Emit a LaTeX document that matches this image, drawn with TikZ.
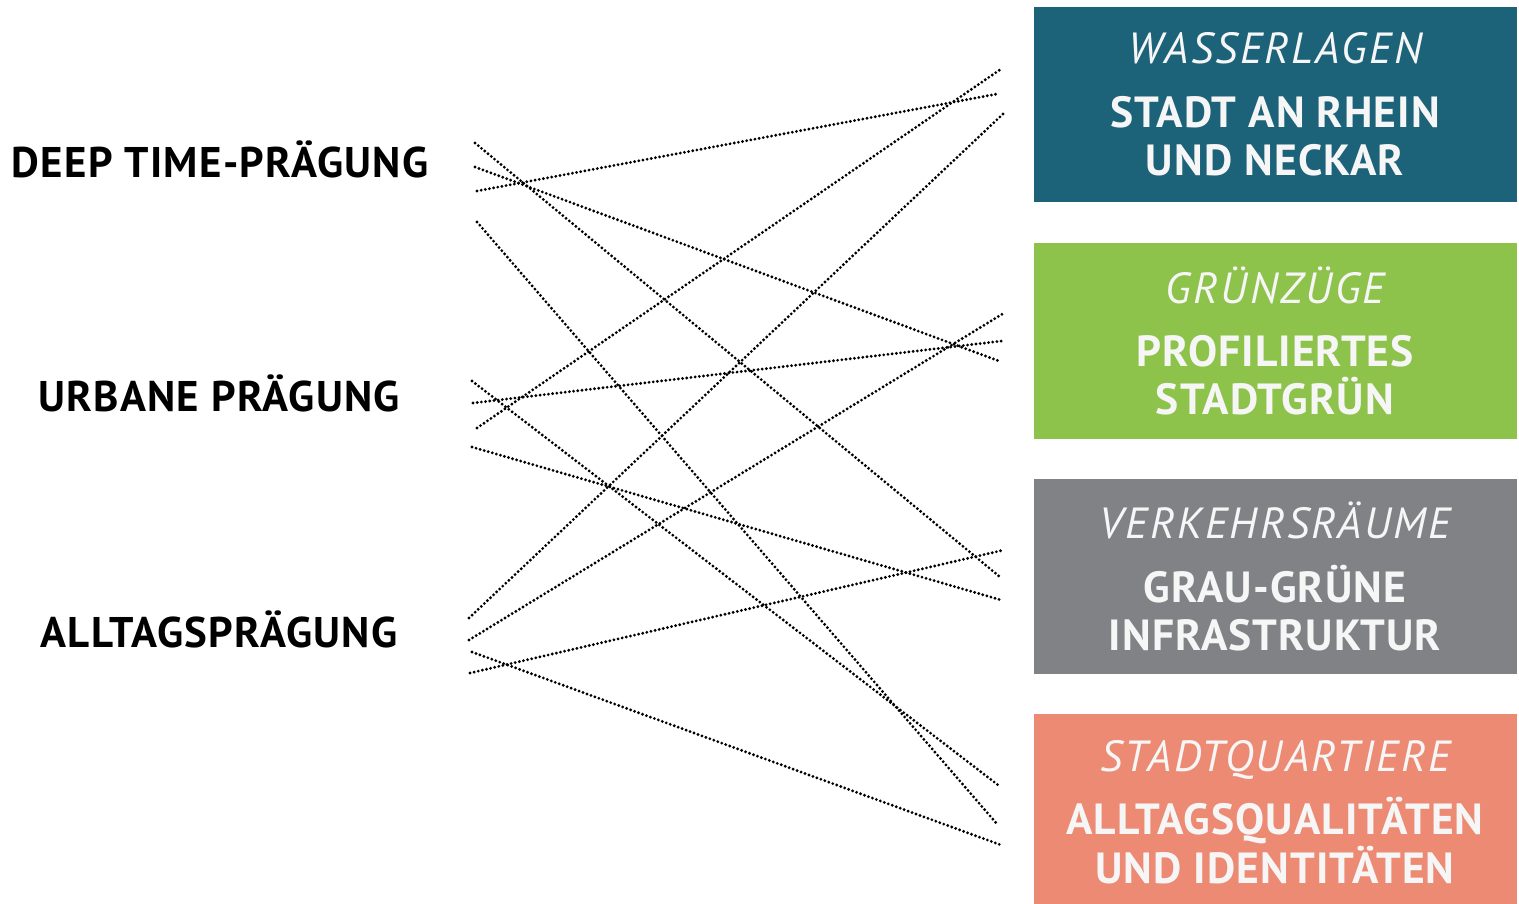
\documentclass[tikz,border=0pt]{standalone}
\usepackage{fontspec}
\setmainfont{PT Sans}
\definecolor{wasser}{RGB}{28,99,122}
\definecolor{gruen}{RGB}{141,194,75}
\definecolor{verkehr}{RGB}{128,130,133}
\definecolor{quartier}{RGB}{236,138,115}
\definecolor{weiss}{RGB}{246,246,246}
\newcommand{\feld}[6]{%
  % 彩色方框: 名称, 颜色, 中心y, 标题, 两行正文
  \node[feld, fill=#2] (#1) at (1275.5,#3)
  {{\itshape\addfontfeature{LetterSpace=5.5}#4}\\[4.3pt]%
   \textbf{\addfontfeature{LetterSpace=2.5}#5}\\%
   \textbf{\addfontfeature{LetterSpace=2.5}#6}};
}

\begin{document}
\begin{tikzpicture}[
  x=0.01cm, y=-0.01cm,
  feld/.style={rectangle, inner sep=0pt, minimum width=4.83cm,
    minimum height=1.95cm, text=weiss, align=center,
    font=\fontsize{12.4}{13.7}\selectfont},
  praeg/.style={anchor=base,
    font=\fontsize{12.2}{14}\selectfont\bfseries\addfontfeature{LetterSpace=3}},
  punkt/.style={line width=0.9pt, line cap=round,
    dash pattern=on 0pt off 1.2pt},
  ]
  \useasboundingbox (0,0) rectangle (1519,904);
  \clip (0,0) rectangle (1519,904);

  % 左侧三类标签
  \node[praeg] (deep) at (220,178) {DEEP TIME-PRÄGUNG};
  \node[praeg] (urban) at (219,412) {URBANE PRÄGUNG};
  \node[praeg] (alltag) at (219,647) {ALLTAGSPRÄGUNG};

  % 右侧四个方框
  \feld{wasser}{wasser}{104.5}{WASSERLAGEN}{STADT AN RHEIN}{UND NECKAR}
  \feld{gruen}{gruen}{341}{GRÜNZÜGE}{PROFILIERTES}{STADTGRÜN}
  \feld{verkehr}{verkehr}{576.5}{VERKEHRSRÄUME}{GRAU-GRÜNE}{INFRASTRUKTUR}
  \feld{quartier}{quartier}{812}{STADTQUARTIERE}{ALLTAGSQUALITÄTEN}{UND IDENTITÄTEN}

  % 连线起点
  \coordinate (d1) at (475,143);
  \coordinate (d2) at (475,167);
  \coordinate (d3) at (477,191);
  \coordinate (d4) at (477,222);
  \coordinate (u1) at (472,381);
  \coordinate (u2) at (473,403);
  \coordinate (u3) at (477,428);
  \coordinate (u4) at (472,447);
  \coordinate (a1) at (469,618);
  \coordinate (a2) at (469,640);
  \coordinate (a3) at (472,652);
  \coordinate (a4) at (470,673);

  % 连线终点
  \coordinate (w1) at (1001,69);
  \coordinate (w2) at (997,94);
  \coordinate (w3) at (1003,114);
  \coordinate (g1) at (1004,313);
  \coordinate (g2) at (1002,341);
  \coordinate (g3) at (999,361);
  \coordinate (v1) at (1004,550);
  \coordinate (v2) at (1000,577);
  \coordinate (v3) at (1001,600);
  \coordinate (q1) at (998,785);
  \coordinate (q2) at (997,824);
  \coordinate (q3) at (1001,845);

  % 点线连接
  \foreach \s/\e in {d1/v2, d2/g3, d3/w2, d4/q2,
                     u1/q1, u2/g2, u3/w1, u4/v3,
                     a1/w3, a2/g1, a3/q3, a4/v1}
  {
    \draw[punkt] (\s) -- (\e);
  }
\end{tikzpicture}
\end{document}
